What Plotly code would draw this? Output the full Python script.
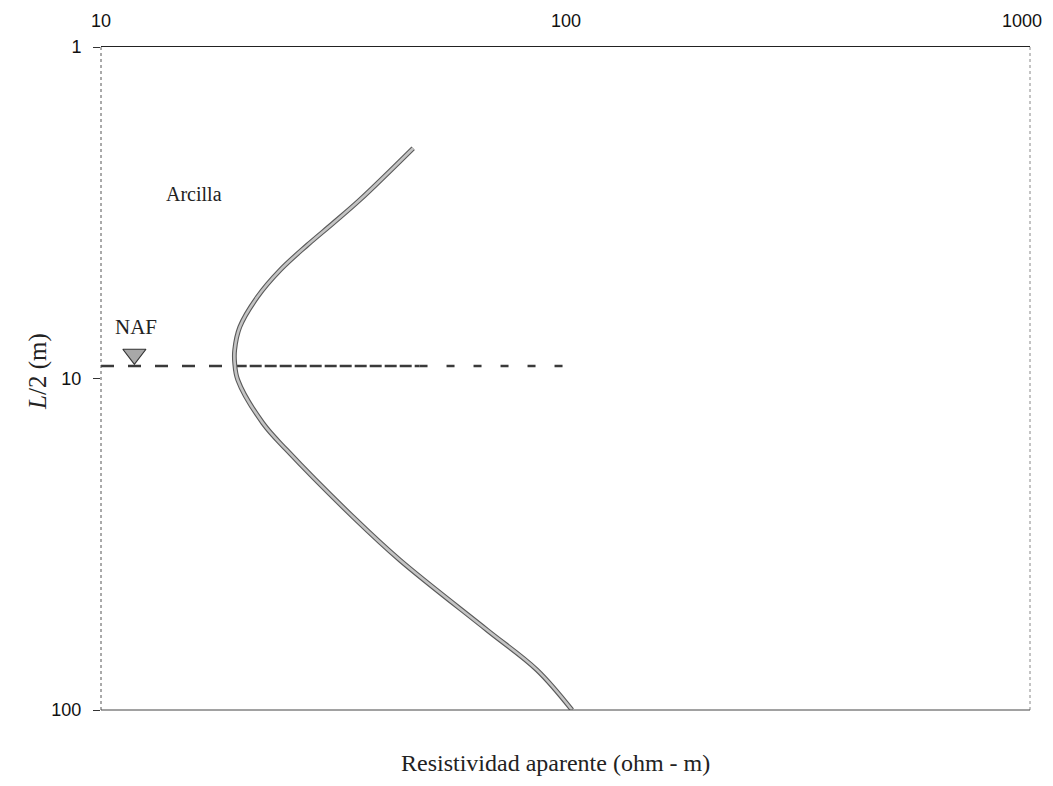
import math
import plotly.graph_objects as go

# Curve data (apparent resistivity ohm-m vs L/2 in m)
rho = [47.0, 36.1, 31.6, 27.8, 24.3, 21.7, 19.9, 19.4, 19.4, 19.7, 22.3,
       25.1, 34.9, 44.0, 67.8, 86.8, 103.3]
half_L = [2.02, 2.89, 3.40, 3.96, 4.71, 5.68, 6.99, 8.20, 8.98, 10.1, 13.62,
          16.43, 26.17, 35.3, 57.4, 75.7, 100]

# water table (NAF) level and dashed line extent (three dash densities)
naf_depth = 9.17
naf_seg1 = [10, 19.4]
naf_seg2 = [19.4, 48.5]
naf_seg3 = [48.5, 106.1]
naf_marker = (11.8, 8.45)
naf_label = (11.9, 6.99)
arcilla_label = (15.86, 2.776)

x_ticks = [10, 100, 1000]
y_ticks = [1, 10, 100]

fig = go.Figure()

for seg, dash in [(naf_seg1, "13px,14px"), (naf_seg2, "12px,3px"), (naf_seg3, "8px,19px")]:
    fig.add_trace(go.Scatter(x=seg, y=[naf_depth, naf_depth], mode="lines",
                             line=dict(color="#3a3a3a", width=2.5, dash=dash),
                             hoverinfo="skip", showlegend=False))

# curve: dark outline + grey core
fig.add_trace(go.Scatter(x=rho, y=half_L, mode="lines",
                         line=dict(color="#5a5a5a", width=4.8, shape="spline", smoothing=1.0, simplify=False),
                         hoverinfo="skip", showlegend=False))
fig.add_trace(go.Scatter(x=rho, y=half_L, mode="lines",
                         line=dict(color="#c4c4c4", width=2.6, shape="spline", smoothing=1.0, simplify=False),
                         hoverinfo="skip", showlegend=False))

# NAF triangle
fig.add_trace(go.Scatter(x=[naf_marker[0]], y=[naf_marker[1]], mode="markers",
                         marker=dict(symbol="triangle-down", size=20, color="#a8a8a8",
                                     line=dict(color="#333", width=1.2)),
                         hoverinfo="skip", showlegend=False))

fig.add_annotation(x=math.log10(naf_label[0]), y=math.log10(naf_label[1]), xref="x", yref="y",
                   text="NAF", showarrow=False,
                   font=dict(family="Liberation Serif", size=21, color="#222"))
fig.add_annotation(x=math.log10(arcilla_label[0]), y=math.log10(arcilla_label[1]), xref="x", yref="y",
                   text="Arcilla", showarrow=False,
                   font=dict(family="Liberation Serif", size=20, color="#222"))
fig.add_annotation(x=0.4887, y=-0.080, xref="paper", yref="paper",
                   text="Resistividad aparente (ohm - m)", showarrow=False, yanchor="middle",
                   font=dict(family="Liberation Serif", size=24, color="#222"))
fig.add_annotation(x=-0.085, y=0.51, xref="paper", yref="paper", textangle=-90,
                   text="<i>L</i>/2 (m)", showarrow=False,
                   font=dict(family="Liberation Serif", size=25, color="#222"))

# top x tick labels (drawn as text at the log-axis tick positions so the last one is not hidden)
for i, v in enumerate(x_ticks):
    last = i == len(x_ticks) - 1
    fig.add_annotation(x=math.log10(v), y=1.057, xref="x", yref="paper", text=str(v),
                       showarrow=False, yanchor="top", xanchor="right" if last else "center",
                       xshift=14 if last else 0,
                       font=dict(family="Liberation Sans", size=18, color="#111"))

# borders: dotted left/right, bottom line
fig.add_shape(type="line", xref="paper", yref="paper", x0=0, x1=0, y0=0, y1=1,
              line=dict(color="#555", width=1, dash="dot"))
fig.add_shape(type="line", xref="paper", yref="paper", x0=1, x1=1, y0=0, y1=1,
              line=dict(color="#888", width=1, dash="dot"))
fig.add_shape(type="line", xref="paper", yref="paper", x0=0, x1=1, y0=0, y1=0,
              line=dict(color="#444", width=1))

fig.update_layout(
    width=1037, height=770,
    margin=dict(l=93, r=15, t=39, b=68, autoexpand=False),
    plot_bgcolor="white", paper_bgcolor="white",
    xaxis=dict(type="log", range=[1, 3], side="top", tickvals=x_ticks, showticklabels=False,
               showgrid=False, zeroline=False, showline=True, linecolor="#222", linewidth=1.3,
               ticks="", automargin=False),
    yaxis=dict(type="log", range=[2, 0], tickvals=y_ticks, ticktext=[str(v) for v in y_ticks],
               showgrid=False, zeroline=False, showline=False, ticks="outside", ticklen=7,
               tickcolor="#333", ticklabelstandoff=8, automargin=False,
               tickfont=dict(family="Liberation Sans", size=18, color="#111")),
)

fig.write_html("out.html")
